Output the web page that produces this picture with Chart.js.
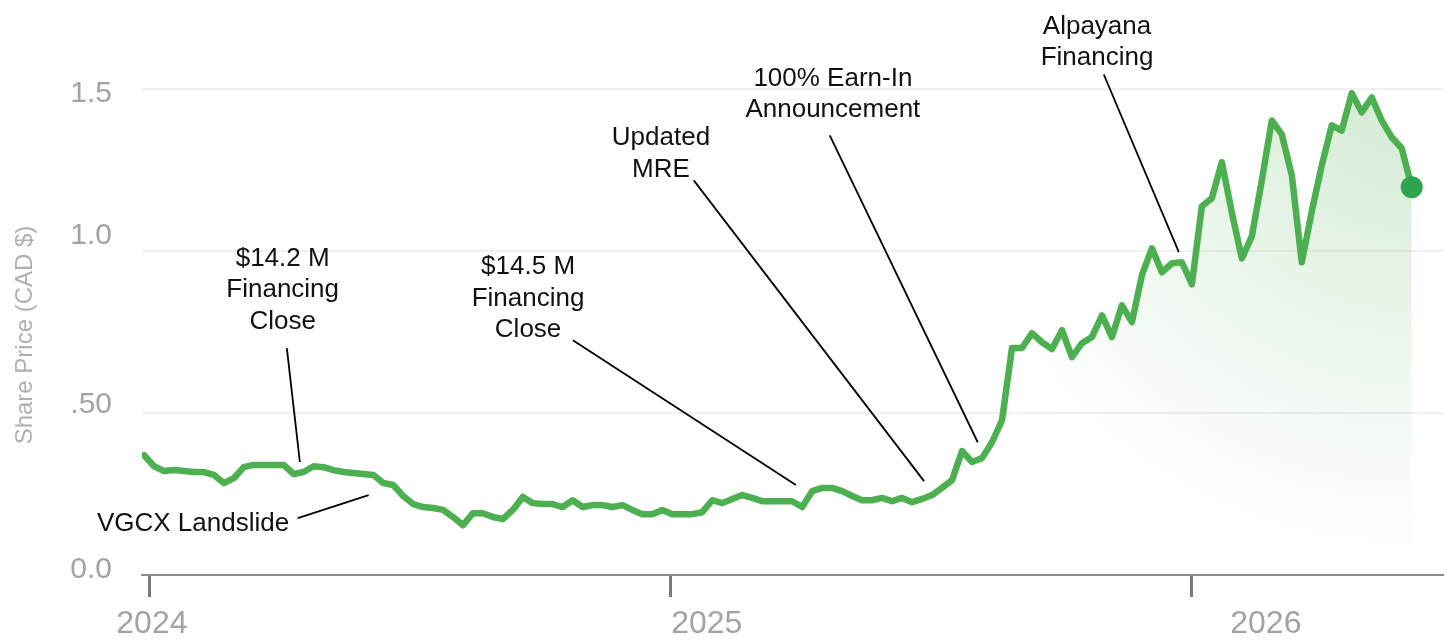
<!DOCTYPE html>
<html>
<head>
<meta charset="utf-8">
<title>Share Price</title>
<script src="https://cdn.jsdelivr.net/npm/chart.js@4.4.1/dist/chart.umd.min.js"></script>
<style>
  html, body { margin: 0; padding: 0; background: #fff; }
  #wrap { width: 1448px; height: 643px; position: relative; }
</style>
</head>
<body>
<div id="wrap"><canvas id="priceChart"></canvas></div>
<script>
// weekly closes, first week ending 2023-12-28
const startDate = '2023-12-28';
const weeklyClose = [
  0.370, 0.336, 0.321, 0.324, 0.321, 0.318, 0.318, 0.309, 0.284, 0.299,
  0.333, 0.340, 0.340, 0.340, 0.340, 0.312, 0.318, 0.336, 0.333, 0.324,
  0.318, 0.315, 0.312, 0.309, 0.284, 0.278, 0.244, 0.219, 0.210, 0.207,
  0.201, 0.179, 0.154, 0.191, 0.191, 0.179, 0.173, 0.201, 0.241, 0.222,
  0.219, 0.219, 0.210, 0.231, 0.210, 0.216, 0.216, 0.210, 0.216, 0.201,
  0.188, 0.188, 0.201, 0.188, 0.188, 0.188, 0.194, 0.231, 0.222, 0.235,
  0.247, 0.238, 0.228, 0.228, 0.228, 0.228, 0.210, 0.259, 0.269, 0.269,
  0.259, 0.244, 0.231, 0.231, 0.238, 0.228, 0.238, 0.225, 0.235, 0.247,
  0.269, 0.293, 0.383, 0.349, 0.361, 0.410, 0.478, 0.701, 0.701, 0.747,
  0.719, 0.698, 0.756, 0.673, 0.716, 0.735, 0.802, 0.735, 0.833, 0.781,
  0.926, 1.009, 0.935, 0.963, 0.966, 0.898, 1.139, 1.164, 1.275, 1.120,
  0.978, 1.046, 1.219, 1.404, 1.361, 1.235, 0.966, 1.123, 1.265, 1.389,
  1.373, 1.488, 1.429, 1.475, 1.404, 1.352, 1.318, 1.198
];

const xTickYears = [2024, 2025, 2026];
const xTickLabels = ['2024', '2025', '2026'];
const yTickValues = [0, 0.5, 1.0, 1.5];
const yTickLabels = ['0.0', '.50', '1.0', '1.5'];
const yTitle = 'Share Price (CAD $)';

// callouts: text anchor and leader line ends, in [year, price]
const notes = [
  { lines: ['$14.2 M', 'Financing', 'Close'], text: [2024.255, 0.978], from: [2024.263, 0.701], to: [2024.288, 0.349] },
  { lines: ['VGCX Landslide'], text: [2024.083, 0.157], from: [2024.284, 0.176], to: [2024.420, 0.247] },
  { lines: ['$14.5 M', 'Financing', 'Close'], text: [2024.726, 0.951], from: [2024.812, 0.725], to: [2025.240, 0.278] },
  { lines: ['Updated', 'MRE'], text: [2024.981, 1.349], from: [2025.044, 1.219], to: [2025.486, 0.290] },
  { lines: ['100% Earn-In', 'Announcement'], text: [2025.311, 1.534], from: [2025.305, 1.358], to: [2025.589, 0.410] },
  { lines: ['Alpayana', 'Financing'], text: [2025.818, 1.694], from: [2025.831, 1.546], to: [2025.975, 0.997] }
];

function decimalYear(d) {
  const y = d.getUTCFullYear();
  const a = Date.UTC(y, 0, 1);
  const b = Date.UTC(y + 1, 0, 1);
  return y + (d.getTime() - a) / (b - a);
}

const t0 = new Date(startDate + 'T00:00:00Z');
const points = weeklyClose.map((v, i) => ({
  x: decimalYear(new Date(t0.getTime() + i * 7 * 86400000)),
  y: v
}));

const FONT = "'Liberation Sans', Arial, sans-serif";
const X_MIN = 2023.985, X_MAX = 2026.482;
// tick labels are nudged off their ticks, so they get their own axes
const xLabelAt = [2024.004, 2025.069, 2026.142];
const yLabelAt = [0.016, 0.525, 1.047, 1.486];

const calloutPlugin = {
  id: 'callouts',
  afterDatasetsDraw(chart) {
    const { ctx, scales: { x, y } } = chart;
    ctx.save();
    ctx.strokeStyle = '#000';
    ctx.lineWidth = 1.8;
    ctx.fillStyle = '#111';
    ctx.font = '26px ' + FONT;
    ctx.textAlign = 'center';
    ctx.textBaseline = 'middle';
    notes.forEach(n => {
      ctx.beginPath();
      ctx.moveTo(x.getPixelForValue(n.from[0]), y.getPixelForValue(n.from[1]));
      ctx.lineTo(x.getPixelForValue(n.to[0]), y.getPixelForValue(n.to[1]));
      ctx.stroke();
      const tx = x.getPixelForValue(n.text[0]);
      const ty = y.getPixelForValue(n.text[1]);
      n.lines.forEach((line, i) => ctx.fillText(line, tx, ty + i * 31.5));
    });

    // rotated axis title
    ctx.translate(25, 335);
    ctx.rotate(-Math.PI / 2);
    ctx.font = '24px ' + FONT;
    ctx.fillStyle = '#b0b0b0';
    ctx.fillText(yTitle, 0, 0);
    ctx.restore();
  }
};

new Chart(document.getElementById('priceChart'), {
  type: 'line',
  data: {
    datasets: [{
      data: points,
      borderColor: '#4caf50',
      borderWidth: 6.5,
      borderJoinStyle: 'round',
      borderCapStyle: 'round',
      tension: 0,
      fill: 'origin',
      backgroundColor: (c) => {
        const area = c.chart.chartArea;
        if (!area) return 'rgba(76,175,80,0.1)';
        const cx = area.right - 30, cy = area.top + 20;
        const g = c.chart.ctx.createRadialGradient(cx, cy, 0, cx, cy, 490);
        g.addColorStop(0, 'rgba(76,175,80,0.26)');
        g.addColorStop(0.45, 'rgba(76,175,80,0.13)');
        g.addColorStop(1, 'rgba(76,175,80,0)');
        return g;
      },
      pointRadius: (c) => c.dataIndex === weeklyClose.length - 1 ? 11 : 0,
      pointHoverRadius: 0,
      pointBackgroundColor: '#2ea44f',
      pointBorderWidth: 0
    }]
  },
  options: {
    responsive: true,
    maintainAspectRatio: false,
    animation: false,
    layout: { autoPadding: false, padding: { top: 57, right: 5, left: 0, bottom: 0 } },
    plugins: { legend: { display: false }, tooltip: { enabled: false } },
    scales: {
      x: {
        type: 'linear',
        min: X_MIN,
        max: X_MAX,
        afterBuildTicks: (s) => { s.ticks = xTickYears.map(v => ({ value: v })); },
        ticks: { display: false },
        grid: { drawOnChartArea: false, drawTicks: true, tickLength: 22, tickWidth: 3, tickColor: '#7a7a7a' },
        border: { color: '#8a8a8a', width: 2 },
        afterFit: (s) => { s.height = 22; s.paddingLeft = 0; s.paddingRight = 0; }
      },
      xLabels: {
        type: 'linear',
        position: 'bottom',
        weight: 1,
        min: X_MIN,
        max: X_MAX,
        afterBuildTicks: (s) => { s.ticks = xLabelAt.map(v => ({ value: v })); },
        ticks: {
          callback: (v, i) => xTickLabels[i],
          color: '#a3a3a3',
          font: { family: FONT, size: 32 },
          padding: 0,
          maxRotation: 0,
          autoSkip: false
        },
        grid: { display: false },
        border: { display: false },
        afterFit: (s) => { s.height = 46; s.paddingLeft = 0; s.paddingRight = 0; }
      },
      y: {
        min: 0,
        max: 1.6,
        afterBuildTicks: (s) => { s.ticks = yTickValues.map(v => ({ value: v })); },
        ticks: { display: false },
        grid: {
          color: (c) => c.tick && c.tick.value === 0 ? 'rgba(0,0,0,0)' : '#f0f0f0',
          lineWidth: 2,
          drawTicks: false
        },
        border: { display: false },
        afterFit: (s) => { s.width = 0; s.paddingTop = 0; s.paddingBottom = 0; }
      },
      yLabels: {
        position: 'left',
        weight: 1,
        min: 0,
        max: 1.6,
        afterBuildTicks: (s) => { s.ticks = yLabelAt.map(v => ({ value: v })); },
        ticks: {
          callback: (v, i) => yTickLabels[i],
          color: '#a3a3a3',
          font: { family: FONT, size: 30 },
          padding: 30
        },
        grid: { display: false, drawTicks: false },
        border: { display: false },
        afterFit: (s) => { s.width = 142; s.paddingTop = 0; s.paddingBottom = 0; }
      }
    }
  },
  plugins: [calloutPlugin]
});
</script>
</body>
</html>
